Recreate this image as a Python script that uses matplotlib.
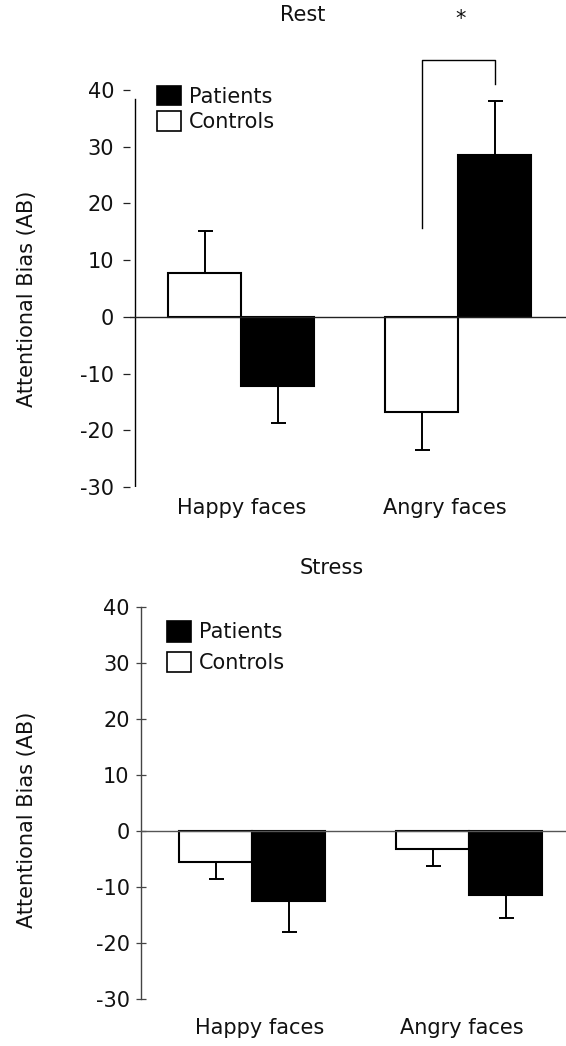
import matplotlib
matplotlib.use("Agg")
import matplotlib.pyplot as plt
import numpy as np
from matplotlib.patches import Patch

plt.rcParams['font.family'] = ['DejaVu Sans']

categories = ["Happy faces", "Angry faces"]
groups = ["Patients", "Controls"]
panels = ["Rest", "Stress"]

rest_controls = [7.7, -16.8]
rest_controls_err = [7.4, 6.7]
rest_patients = [-12.2, 28.6]
rest_patients_err = [6.5, 9.4]

stress_controls = [-5.6, -3.2]
stress_controls_err = [3.0, 3.1]
stress_patients = [-12.5, -11.4]
stress_patients_err = [5.6, 4.2]

yticks = [40, 30, 20, 10, 0, -10, -20, -30]
sig_bracket = [15.7, 45.3, 41.1]
sig_label = "*"

W, H = 566, 1046
fig = plt.figure(figsize=(W / 100, H / 100), dpi=100)
TXT = '#111111'
FS = 15
w = 73 / 217


def ax_at(l, r, t, b):
    return fig.add_axes([l / W, 1 - b / H, (r - l) / W, (b - t) / H])


def draw_panel(ax, controls, c_err, patients, p_err, zero_col):
    x = np.arange(len(categories))
    xc = x - w / 2
    xp = x + w / 2
    ax.bar(xc, controls, width=w, color='white', edgecolor='black', linewidth=1.5, zorder=3)
    ax.bar(xp, patients, width=w, color='black', edgecolor='black', linewidth=1.5, zorder=3)
    for xs, vals, errs in [(xc, controls, c_err), (xp, patients, p_err)]:
        vals = np.array(vals)
        errs = np.array(errs)
        lower = np.where(vals < 0, errs, 0)
        upper = np.where(vals >= 0, errs, 0)
        ax.errorbar(xs, vals, yerr=[lower, upper], fmt='none', ecolor='black',
                    elinewidth=1.4, capsize=5.4, capthick=1.4, zorder=2)
    ax.axhline(0, color=zero_col, lw=1.0, zorder=4)
    ax.set_ylim(-30, 40)
    ax.set_yticks(yticks)
    ax.set_yticklabels([str(v) for v in yticks])
    for s in ['top', 'right', 'bottom']:
        ax.spines[s].set_visible(False)
    ax.patch.set_alpha(0)


# ---- Top panel (Rest) ----
ax1 = ax_at(130, 566, 90, 487)
ax1.set_xlim(-111 / 217, 1 + 108 / 217)
draw_panel(ax1, rest_controls, rest_controls_err, rest_patients, rest_patients_err, '#222222')
ax1.spines['left'].set_visible(False)
ax1.axvline(-106 / 217, ymin=0, ymax=(38.4 + 30) / 70, color='black', lw=1.0)
ax1.tick_params(axis='y', direction='out', length=5, width=0.9, pad=6.5,
                labelsize=FS, labelcolor=TXT, color='#222222')
ax1.set_xticks([1 / 217, 1 - 13 / 217])
ax1.set_xticklabels(categories)
ax1.tick_params(axis='x', length=0, pad=8, labelsize=FS, labelcolor=TXT)
# significance bracket
xl = 1 - w / 2
xr = 1 + w / 2
ax1.plot([xl, xl, xr, xr], [sig_bracket[0], sig_bracket[1], sig_bracket[1], sig_bracket[2]],
         color='black', lw=1.0, clip_on=False)
ax1.text(1 + 3 / 217, 52.5, sig_label, ha='center', va='center', fontsize=FS, color=TXT,
         clip_on=False)
ax1.set_ylabel("Attentional Bias (AB)", fontsize=FS, color=TXT)

handles = [Patch(facecolor='black', edgecolor='black', lw=1.2),
           Patch(facecolor='white', edgecolor='black', lw=1.2)]
ax1.legend(handles, groups, loc='upper left', bbox_to_anchor=(157 / W, 1 - 86 / H),
           bbox_transform=fig.transFigure, frameon=False, fontsize=FS,
           handlelength=1.15, handleheight=1.05, handletextpad=0.38,
           labelspacing=0.22, borderpad=0, borderaxespad=0, labelcolor=TXT)

fig.text(303 / W, 1 - 15 / H, panels[0], ha='center', va='center', fontsize=FS, color=TXT)

# ---- Bottom panel (Stress) ----
ax2 = ax_at(141, 566, 607, 999)
ax2.set_xlim(-111 / 217, 1 + 97 / 217)
draw_panel(ax2, stress_controls, stress_controls_err, stress_patients, stress_patients_err, '#555555')
ax2.spines['left'].set_color('#444444')
ax2.spines['left'].set_linewidth(1.0)
ax2.tick_params(axis='y', direction='inout', length=6.5, width=0.9, pad=5,
                labelsize=FS, labelcolor=TXT, color='#444444')
ax2.set_xticks([8 / 217, 1 - 7 / 217])
ax2.set_xticklabels(categories)
ax2.tick_params(axis='x', length=0, pad=14, labelsize=FS, labelcolor=TXT)
ax2.set_ylabel("Attentional Bias (AB)", fontsize=FS, color=TXT)
ax2.legend(handles, groups, loc='upper left', bbox_to_anchor=(167 / W, 1 - 621 / H),
           bbox_transform=fig.transFigure, frameon=False, fontsize=FS,
           handlelength=1.15, handleheight=1.15, handletextpad=0.38,
           labelspacing=0.45, borderpad=0, borderaxespad=0, labelcolor=TXT)

fig.text(332 / W, 1 - 568 / H, panels[1], ha='center', va='center', fontsize=FS, color=TXT)

# position y labels
for ax, yc in [(ax1, 299), (ax2, 820)]:
    ax.yaxis.set_label_coords(27 / W, 1 - yc / H, transform=fig.transFigure)
    ax.yaxis.label.set_va('center')

fig.savefig("out.png", dpi=100)
